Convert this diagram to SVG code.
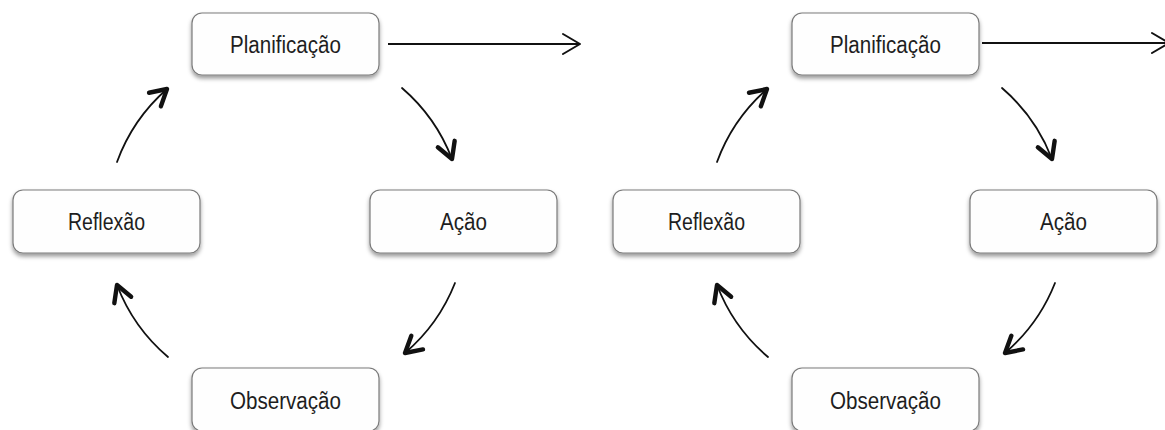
<svg xmlns="http://www.w3.org/2000/svg" width="1165" height="430" viewBox="0 0 1165 430">
  <defs>
    <filter id="sh" x="-10%" y="-20%" width="120%" height="150%">
      <feDropShadow dx="0" dy="3" stdDeviation="2" flood-color="#000" flood-opacity="0.4"/>
    </filter>
    <marker id="bold" markerUnits="userSpaceOnUse" markerWidth="30" markerHeight="30" viewBox="-20 -15 24 30" refX="0" refY="0" orient="auto">
      <path d="M-16,-9 L0,0 L-16,9" fill="none" stroke="#111" stroke-width="4.4" stroke-linecap="round" stroke-linejoin="round"/>
    </marker>
    <marker id="thin" markerUnits="userSpaceOnUse" markerWidth="30" markerHeight="30" viewBox="-20 -15 24 30" refX="0" refY="0" orient="auto">
      <path d="M-17,-10 L0,0 L-17,10" fill="none" stroke="#111" stroke-width="2" stroke-linecap="round" stroke-linejoin="round"/>
    </marker>
  </defs>
  <style>
    .box { fill: #fefefe; stroke: #7a7a7a; stroke-width: 1.2; filter: url(#sh); }
    .lbl { font-family: "Liberation Sans", Arial, sans-serif; font-size: 23px; fill: #1e1e1e; text-anchor: middle; }
    .arc { fill: none; stroke: #111; stroke-width: 1.8; stroke-linecap: round; marker-end: url(#bold); }
    .str { fill: none; stroke: #111; stroke-width: 2; marker-end: url(#thin); }
  </style>

  <!-- Left cycle -->
  <g id="plan1"><rect class="box" x="192" y="13" width="187" height="62" rx="10"/><text class="lbl" x="285.5" y="53" textLength="111" lengthAdjust="spacingAndGlyphs">Planificação</text></g>
  <g id="refl1"><rect class="box" x="13" y="190" width="187" height="63" rx="10"/><text class="lbl" x="106.5" y="230" textLength="77" lengthAdjust="spacingAndGlyphs">Reflexão</text></g>
  <g id="acao1"><rect class="box" x="370" y="190" width="187" height="63" rx="10"/><text class="lbl" x="463.5" y="230" textLength="47" lengthAdjust="spacingAndGlyphs">Ação</text></g>
  <g id="obs1"><rect class="box" x="192" y="368" width="187" height="63" rx="10"/><text class="lbl" x="285.5" y="409" textLength="111" lengthAdjust="spacingAndGlyphs">Observação</text></g>

  <!-- Right cycle -->
  <g id="plan2"><rect class="box" x="792" y="13" width="187" height="62" rx="10"/><text class="lbl" x="885.5" y="53" textLength="111" lengthAdjust="spacingAndGlyphs">Planificação</text></g>
  <g id="refl2"><rect class="box" x="613" y="190" width="187" height="63" rx="10"/><text class="lbl" x="706.5" y="230" textLength="77" lengthAdjust="spacingAndGlyphs">Reflexão</text></g>
  <g id="acao2"><rect class="box" x="970" y="190" width="187" height="63" rx="10"/><text class="lbl" x="1063.5" y="230" textLength="47" lengthAdjust="spacingAndGlyphs">Ação</text></g>
  <g id="obs2"><rect class="box" x="792" y="368" width="187" height="63" rx="10"/><text class="lbl" x="885.5" y="409" textLength="111" lengthAdjust="spacingAndGlyphs">Observação</text></g>

  <g id="connectors">
    <path class="str" d="M388,44 L580,44"/>
    <path class="arc" d="M117,162 A178,178 0 0 1 167,89"/>
    <path class="arc" d="M402,88 A178,178 0 0 1 452,159"/>
    <path class="arc" d="M455,283 A178,178 0 0 1 405,353"/>
    <path class="arc" d="M168,357 A178,178 0 0 1 117,285"/>

    <path class="str" d="M982,43 L1169,43"/>
    <path class="arc" d="M717,162 A178,178 0 0 1 767,89"/>
    <path class="arc" d="M1002,88 A178,178 0 0 1 1052,159"/>
    <path class="arc" d="M1055,283 A178,178 0 0 1 1005,353"/>
    <path class="arc" d="M768,357 A178,178 0 0 1 717,285"/>
  </g>
</svg>
